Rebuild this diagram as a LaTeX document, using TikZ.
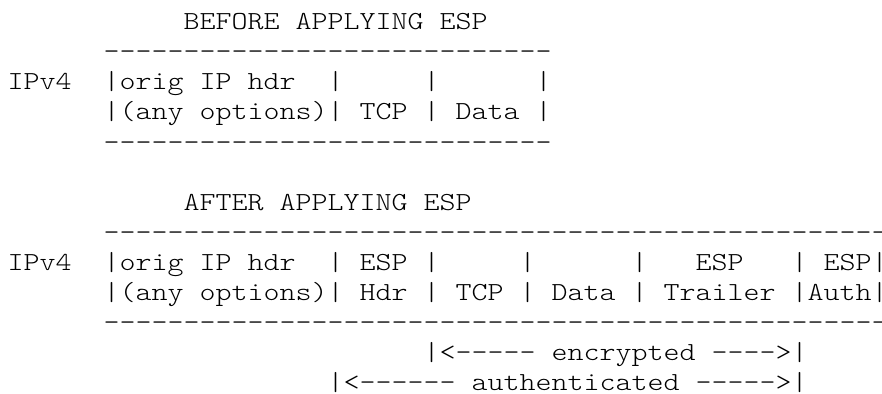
\documentclass[tikz,border=0pt]{standalone}
\usepackage{fontspec}
\setmonofont{lmmonolt10-regular.otf}[FakeStretch=1.172]
\newcommand\asciifont{\ttfamily\fontsize{26pt}{30pt}\selectfont\frenchspacing}
\tikzset{ascii/.style={anchor=base west, inner sep=0pt, outer sep=0pt, font=\asciifont, text=black}}
\begin{document}
\begin{tikzpicture}[x=1pt,y=1pt]
\fill[white] (0,0) rectangle (882,-393);
\useasboundingbox (0,0) rectangle (882,-393);
\def\cw{16}
\def\xo{7.7}
% line k: baseline at -(30+30k); column c: x = xo + c*cw
\node[ascii] (t0) at ({\xo+11*\cw},-30) {BEFORE\ APPLYING\ ESP};
\node[ascii] (t1) at ({\xo+6*\cw},-60) {----------------------------};
\node[ascii] (t2) at ({\xo},-90) {IPv4\ \ |orig\ IP\ hdr\ \ |\ \ \ \ \ |\ \ \ \ \ \ |};
\node[ascii] (t3) at ({\xo+6*\cw},-120) {|(any\ options)|\ TCP\ |\ Data\ |};
\node[ascii] (t4) at ({\xo+6*\cw},-150) {----------------------------};
\node[ascii] (t6) at ({\xo+11*\cw},-210) {AFTER\ APPLYING\ ESP};
\node[ascii] (t7) at ({\xo+6*\cw},-240) {-------------------------------------------------};
\node[ascii] (t8) at ({\xo},-270) {IPv4\ \ |orig\ IP\ hdr\ \ |\ ESP\ |\ \ \ \ \ |\ \ \ \ \ \ |\ \ \ ESP\ \ \ |\ ESP|};
\node[ascii] (t9) at ({\xo+6*\cw},-300) {|(any\ options)|\ Hdr\ |\ TCP\ |\ Data\ |\ Trailer\ |Auth|};
\node[ascii] (t10) at ({\xo+6*\cw},-330) {-------------------------------------------------};
\node[ascii] (t11) at ({\xo+26*\cw},-360) {|<-----\ encrypted\ ---->|};
\node[ascii] (t12) at ({\xo+20*\cw},-390) {|<------\ authenticated\ ----->|};
\end{tikzpicture}
\end{document}
